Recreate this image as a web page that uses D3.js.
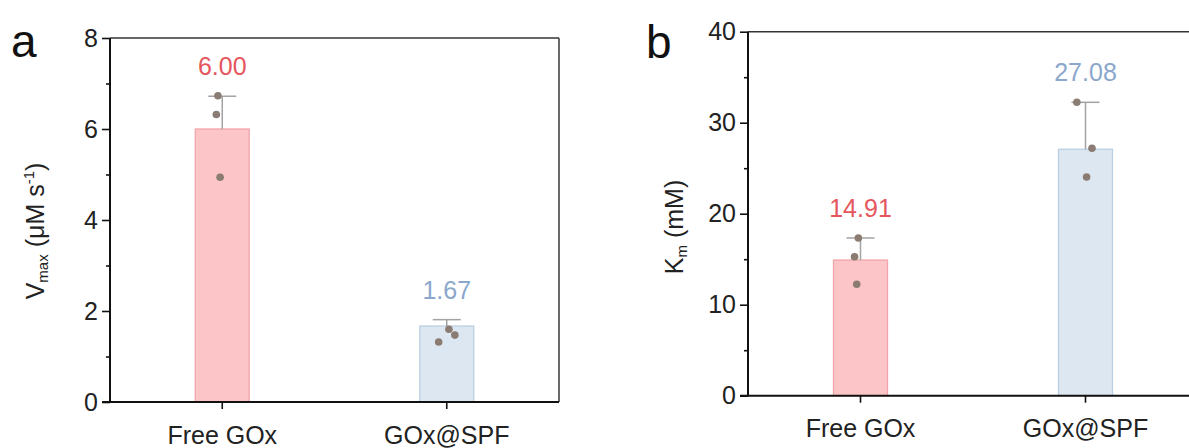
<!DOCTYPE html>
<html>
<head>
<meta charset="utf-8">
<script src="https://cdn.jsdelivr.net/npm/d3@7"></script>
<style>
  html, body { margin: 0; padding: 0; background: #fff; }
  svg { display: block; }
  text { font-family: "Liberation Sans", Arial, sans-serif; }
</style>
</head>
<body>
<svg id="fig" width="1189" height="448"></svg>
<script>
// Enzyme kinetics: Vmax and Km of free GOx vs GOx@SPF
const categories = ["Free GOx", "GOx@SPF"];

const vmaxMeans = [6.00, 1.67];
const vmaxErr = [0.72, 0.14];
const vmaxReps = [[6.73, 6.32, 4.94], [1.60, 1.47, 1.32]];
const vmaxTicks = [0, 2, 4, 6, 8];
const vmaxMinor = [1, 3, 5, 7];

const kmMeans = [14.91, 27.08];
const kmErr = [2.42, 5.16];
const kmReps = [[17.33, 15.27, 12.24], [32.24, 27.19, 24.03]];
const kmTicks = [0, 10, 20, 30, 40];
const kmMinor = [5, 15, 25, 35];

const valueLabels = ["6.00", "1.67"];
const kmValueLabels = ["14.91", "27.08"];

// horizontal scatter of the replicate dots, as a fraction of bar width
const jitterA = [[-0.08, -0.11, -0.04], [0.04, 0.15, -0.15]];
const jitterB = [[-0.04, -0.11, -0.07], [-0.16, 0.12, 0.02]];

const barFill = ["#fcc6c8", "#dde7f1"];
const barStroke = ["#f2a5aa", "#bccfe2"];
const labelColor = ["#e5565d", "#8ba7cc"];
const dotColor = "#8a7c73";
const errColor = "#a3a3a3";
const FONT = 25;

const svg = d3.select("#fig");

function panel(opt) {
  const g = svg.append("g");
  const x = d3.scaleBand()
    .domain(categories)
    .range([opt.left, opt.right])
    .paddingInner(0.76)
    .paddingOuter(0.38);
  const y = d3.scaleLinear().domain(opt.domain).range([opt.bottom, opt.top]);
  const bw = x.bandwidth();
  const cx = c => x(c) + bw / 2;

  // bars
  g.selectAll("rect.bar").data(categories).join("rect")
    .attr("class", "bar")
    .attr("x", c => x(c))
    .attr("width", bw)
    .attr("y", (c, i) => y(opt.means[i]))
    .attr("height", (c, i) => y(0) - y(opt.means[i]))
    .attr("fill", (c, i) => barFill[i])
    .attr("stroke", (c, i) => barStroke[i])
    .attr("stroke-width", 1.3);

  // upper error bars
  const capHalf = bw * 0.26;
  categories.forEach((c, i) => {
    const top = y(opt.means[i] + opt.err[i]);
    g.append("line")
      .attr("x1", cx(c)).attr("x2", cx(c))
      .attr("y1", y(opt.means[i])).attr("y2", top)
      .attr("stroke", errColor).attr("stroke-width", 1.5);
    g.append("line")
      .attr("x1", cx(c) - capHalf).attr("x2", cx(c) + capHalf)
      .attr("y1", top).attr("y2", top)
      .attr("stroke", errColor).attr("stroke-width", 1.5);
  });

  // replicate points
  categories.forEach((c, i) => {
    g.selectAll(null).data(opt.reps[i]).join("circle")
      .attr("cx", (v, k) => cx(c) + opt.jitter[i][k] * bw)
      .attr("cy", v => y(v))
      .attr("r", 3.8)
      .attr("fill", dotColor);
  });

  // value labels
  categories.forEach((c, i) => {
    g.append("text")
      .attr("x", cx(c))
      .attr("y", y(opt.means[i] + opt.err[i]) - 21)
      .attr("text-anchor", "middle")
      .attr("font-size", FONT)
      .attr("fill", labelColor[i])
      .text(opt.labels[i]);
  });

  // frame: top and right edges
  g.append("line")
    .attr("x1", opt.left).attr("x2", opt.right)
    .attr("y1", opt.top).attr("y2", opt.top)
    .attr("stroke", "#333").attr("stroke-width", 1.6);
  g.append("line")
    .attr("x1", opt.right).attr("x2", opt.right)
    .attr("y1", opt.top).attr("y2", opt.bottom)
    .attr("stroke", "#444").attr("stroke-width", 1.6);

  // y axis (major + minor)
  const yAxis = g.append("g")
    .attr("transform", `translate(${opt.left},0)`)
    .call(d3.axisLeft(y).tickValues(opt.ticks).tickSize(8).tickPadding(4).tickFormat(d3.format("d")));
  g.append("g")
    .attr("transform", `translate(${opt.left},0)`)
    .call(d3.axisLeft(y).tickValues(opt.minor).tickSize(4).tickFormat(""))
    .call(a => a.select(".domain").remove());

  // x axis
  const xAxis = g.append("g")
    .attr("transform", `translate(0,${opt.bottom})`)
    .call(d3.axisBottom(x).tickSize(7).tickPadding(17).tickSizeOuter(0));

  [yAxis, xAxis].forEach(a => {
    a.selectAll(".domain").attr("stroke", "#111").attr("stroke-width", 2);
    a.selectAll(".tick line").attr("stroke", "#111").attr("stroke-width", 1.6);
    a.selectAll("text").attr("font-size", FONT).attr("fill", "#222")
      .attr("font-family", "'Liberation Sans', Arial, sans-serif");
  });
  g.selectAll(".tick line").attr("stroke", "#111").attr("stroke-width", 1.6);
  // y domain line extends up to the frame top
  yAxis.select(".domain").attr("d", `M0,${opt.top}V${opt.bottom}`);
  xAxis.select(".domain").attr("d", `M${opt.left - 8},0H${opt.right}`);

  // y title
  const t = g.append("text")
    .attr("transform", `translate(${opt.titleX},${opt.titleY}) rotate(-90)`)
    .attr("text-anchor", "middle")
    .attr("font-size", FONT)
    .attr("fill", "#222");
  opt.title(t);

  // panel letter
  g.append("text")
    .attr("x", opt.letterX).attr("y", opt.letterY)
    .attr("font-size", 46)
    .attr("fill", "#111")
    .text(opt.letter);
}

panel({
  left: 110, right: 559, top: 38, bottom: 402,
  domain: [0, 8], ticks: vmaxTicks, minor: vmaxMinor,
  means: vmaxMeans, err: vmaxErr, reps: vmaxReps, jitter: jitterA,
  labels: valueLabels,
  titleX: 44, titleY: 231,
  title: t => {
    t.append("tspan").text("V");
    t.append("tspan").attr("font-size", 15).attr("dy", 4).text("max");
    t.append("tspan").attr("dy", -4).text(" (\u03bcM s");
    t.append("tspan").attr("font-size", 15).attr("dy", -10).text("-1");
    t.append("tspan").attr("dy", 10).text(")");
  },
  letter: "a", letterX: 11, letterY: 57
});

panel({
  left: 748, right: 1198, top: 31.7, bottom: 395.7,
  domain: [0, 40], ticks: kmTicks, minor: kmMinor,
  means: kmMeans, err: kmErr, reps: kmReps, jitter: jitterB,
  labels: kmValueLabels,
  titleX: 683, titleY: 227,
  title: t => {
    t.append("tspan").text("K");
    t.append("tspan").attr("font-size", 15).attr("dy", 4).text("m");
    t.append("tspan").attr("dy", -4).text(" (mM)");
  },
  letter: "b", letterX: 646, letterY: 58
});
</script>
</body>
</html>
